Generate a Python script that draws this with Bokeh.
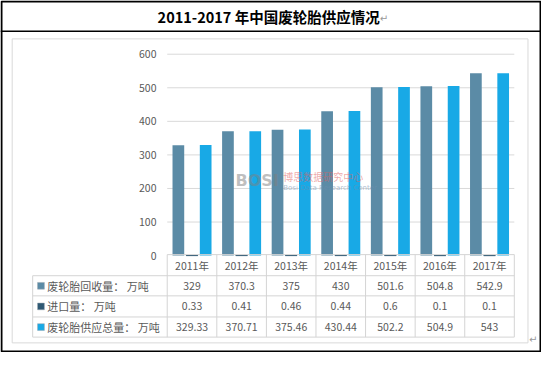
from bokeh.plotting import figure
from bokeh.models import Range1d
from bokeh.core.properties import value
from bokeh.embed import file_html
from bokeh.resources import INLINE

# ---------------- data ----------------
years = ["2011年", "2012年", "2013年", "2014年", "2015年", "2016年", "2017年"]
recycled = [329, 370.3, 375, 430, 501.6, 504.8, 542.9]
imports = [0.33, 0.41, 0.46, 0.44, 0.6, 0.1, 0.1]
total = [329.33, 370.71, 375.46, 430.44, 502.2, 504.9, 543]
series_names = ["废轮胎回收量： 万吨", "进口量： 万吨", "废轮胎供应总量： 万吨"]
y_ticks = [0, 100, 200, 300, 400, 500, 600]
title_text = "2011-2017 年中国废轮胎供应情况"

# ---------------- layout helpers ----------------
W, H = 541, 352
SX, SY = 0.975, 0.959
def fx(rx):  # reference px -> figure px from left
    return (rx - 1) * SX
def fy(ry):  # reference px -> figure px from top
    return ry * SY

PL, PR = fx(172), fx(528)
PT, P0 = fy(56), fy(266)
n = len(years)
cat_px = (PR - PL) / n
unit_px = (P0 - PT) / 600.0

def dx(px):
    return (px - PL) / cat_px
def dy(py):
    return (P0 - py) / unit_px

FONT = value("Noto Sans CJK SC")
TXT = "#595959"
colors = ["#5b8ba6", "#2e5873", "#18a9e6"]

p = figure(width=W, height=H,
           x_range=Range1d(dx(0), dx(W)), y_range=Range1d(dy(H), dy(0)),
           output_backend="svg", toolbar_location=None, min_border=0,
           x_axis_location=None, y_axis_location=None,
           outline_line_color=None, background_fill_color="white",
           border_fill_color="white")
p.grid.visible = False

# outer black border and title divider
p.quad(left=[dx(1)], right=[dx(W - 1)], top=[dy(1)], bottom=[dy(H - 1)],
       fill_color=None, line_color="black", line_width=2)
p.segment(x0=[dx(0)], x1=[dx(W)], y0=[dy(fy(32))], y1=[dy(fy(32))],
          line_color="black", line_width=1.5)
# inner light frame
p.quad(left=[dx(fx(13))], right=[dx(fx(542))], top=[dy(fy(40))], bottom=[dy(fy(357))],
       fill_color=None, line_color="#d9d9d9", line_width=1)

# title
p.text(x=[dx(fx(276))], y=[dy(fy(17))], text=[title_text], text_font=FONT,
       text_font_size="14.5px", text_font_style="bold", text_color="black",
       text_align="center", text_baseline="middle")
p.text(x=[dx(fx(390))], y=[dy(fy(19))], text=["↵"], text_font=value("DejaVu Sans"),
       text_font_size="10px", text_color="#999999", text_align="left", text_baseline="middle")

# gridlines
gy = [t for t in y_ticks if t > 0]
p.segment(x0=[0] * len(gy), x1=[n] * len(gy), y0=gy, y1=gy,
          line_color="#d9d9d9", line_width=1)

# y tick labels
p.text(x=[dx(fx(161))] * len(y_ticks), y=y_ticks, text=[str(t) for t in y_ticks],
       text_font=FONT, text_font_size="10.5px", text_color=TXT,
       text_align="right", text_baseline="middle")

# bars
bw = 12 * SX / cat_px
off = 14 * SX / cat_px
for k, vals in enumerate([recycled, imports, total]):
    xs = [i + 0.5 + (k - 1) * off for i in range(n)]
    p.vbar(x=xs, top=vals, bottom=0, width=bw, fill_color=colors[k],
           line_color=colors[k] if k == 1 else None, line_width=1)

# watermark
p.text(x=[dx(fx(242))], y=[dy(fy(188))], text=["BOSI"], text_font=value("DejaVu Sans"),
       text_font_size="16px", text_font_style="bold", text_color="#7f7f7f",
       text_alpha=0.5, text_align="left", text_baseline="middle")
p.text(x=[dx(fx(291))], y=[dy(fy(184))], text=["博思数据研究中心"], text_font=FONT,
       text_font_size="10px", text_color="#e06060", text_alpha=0.55,
       text_align="left", text_baseline="middle")
p.text(x=[dx(fx(291))], y=[dy(fy(195))], text=["Bosi Data Research Center"],
       text_font=value("DejaVu Sans"), text_font_size="7px", text_color="#6f8fb0",
       text_alpha=0.55, text_align="left", text_baseline="middle")

# data table
LINE = "#d4d4d4"
row_edges = [fy(265), fy(287), fy(308), fy(330), fy(351)]
lab_left = fx(34)
# horizontal lines
p.segment(x0=[0], x1=[n], y0=[dy(row_edges[0])], y1=[dy(row_edges[0])],
          line_color=LINE, line_width=1)
p.segment(x0=[dx(lab_left)] * 4, x1=[n] * 4, y0=[dy(r) for r in row_edges[1:]],
          y1=[dy(r) for r in row_edges[1:]], line_color=LINE, line_width=1)
# vertical lines
p.segment(x0=list(range(n + 1)), x1=list(range(n + 1)),
          y0=[dy(row_edges[0])] * (n + 1), y1=[dy(row_edges[-1])] * (n + 1),
          line_color=LINE, line_width=1)
p.segment(x0=[dx(lab_left)], x1=[dx(lab_left)], y0=[dy(row_edges[1])],
          y1=[dy(row_edges[-1])], line_color=LINE, line_width=1)

centers = [i + 0.5 for i in range(n)]
row_mid = [(row_edges[i] + row_edges[i + 1]) / 2 for i in range(4)]
p.text(x=centers, y=[dy(row_mid[0])] * n, text=years, text_font=FONT,
       text_font_size="10.5px", text_color=TXT, text_align="center",
       text_baseline="middle")
for r, vals in enumerate([recycled, imports, total]):
    p.text(x=centers, y=[dy(row_mid[r + 1])] * n, text=[f"{v:g}" for v in vals],
           text_font=FONT, text_font_size="10.5px", text_color=TXT,
           text_align="center", text_baseline="middle")
    # legend key
    p.rect(x=[dx(fx(42.5))], y=[dy(row_mid[r + 1])], width=7 * SX / cat_px,
           height=7 * SY / unit_px, fill_color=colors[r], line_color="#9aa7b0",
           line_width=0.5)
    p.text(x=[dx(fx(49))], y=[dy(row_mid[r + 1])], text=[series_names[r]],
           text_font=FONT, text_font_size="11px", text_color=TXT,
           text_align="left", text_baseline="middle")

p.text(x=[dx(fx(543))], y=[dy(fy(353))], text=["↵"], text_font=value("DejaVu Sans"),
       text_font_size="10px", text_color="#999999", text_align="left", text_baseline="middle")

open("out.html", "w").write(file_html(p, INLINE))
